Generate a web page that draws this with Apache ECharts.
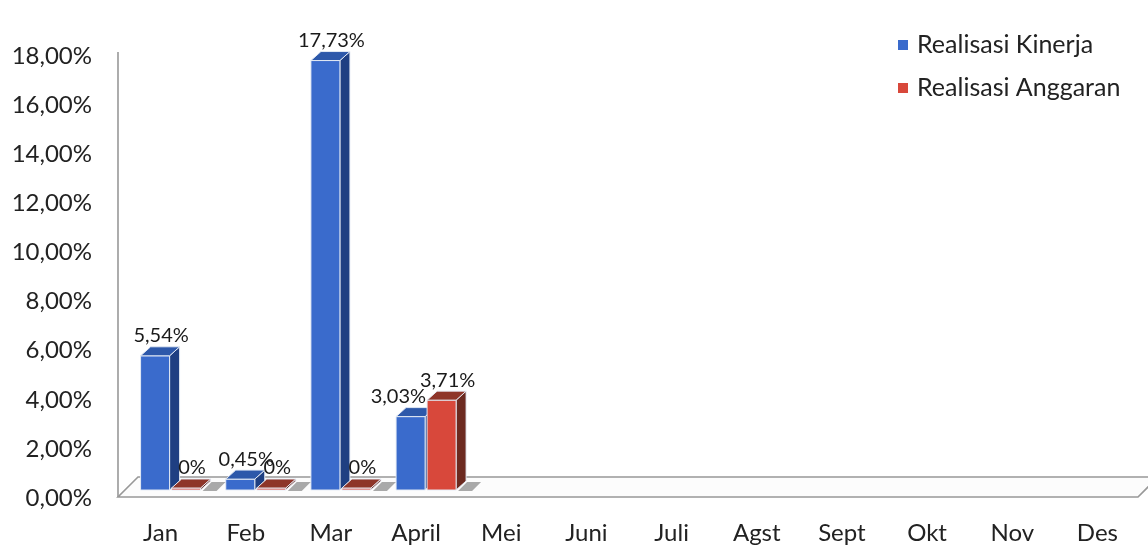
<!DOCTYPE html>
<html>
<head>
<meta charset="utf-8">
<script src="https://cdn.jsdelivr.net/npm/echarts@6/dist/echarts.min.js"></script>
<style>
html,body{margin:0;padding:0;background:#fff;}
#c{width:1148px;height:553px;}
</style>
</head>
<body>
<div id="c"></div>
<script>
var months = ['Jan','Feb','Mar','April','Mei','Juni','Juli','Agst','Sept','Okt','Nov','Des'];
var kinerja = [5.54, 0.45, 17.73, 3.03, null, null, null, null, null, null, null, null];
var anggaran = [0, 0, 0, 3.71, null, null, null, null, null, null, null, null];
var seriesNames = ['Realisasi Kinerja', 'Realisasi Anggaran'];

function toData(arr) {
  var out = [];
  arr.forEach(function (v, i) { if (v !== null) out.push([i, v]); });
  return out;
}
function fmt(v) {
  return v === 0 ? '0%' : v.toFixed(2).replace('.', ',') + '%';
}

var FONT = 'Lato';
var W = 29, DX = 10, DY = 9;
var palettes = [
  {front: '#3a6bcc', side: '#1f3f82', top: '#2d58aa', shift: -20},
  {front: '#d8483b', side: '#6c2a20', top: '#8e3529', shift: 11}
];

function barRenderer(si) {
  var pal = palettes[si];
  return function (params, api) {
    var cat = api.value(0), val = api.value(1);
    var base = api.coord([cat, 0]);
    var top = api.coord([cat, val]);
    var x0 = base[0] + pal.shift;
    var x1 = x0 + W;
    var yb = base[1];
    var yt = Math.min(top[1], yb - 2);
    var edge = 'rgba(230,236,246,0.95)';
    var children = [];
    if (si === 1) {
      children.push({type: 'polygon',
        shape: {points: [[x1 + 2, yb + 1], [x1 + 16, yb + 1], [x1 + 25, yb - 8], [x1 + 11, yb - 8]]},
        style: {fill: '#a9a9a9'}});
    }
    // label placement: if the neighbouring (red) bar is taller, keep the label to its left
    var other = si === 0 ? anggaran[cat] : null;
    var leftAlign = other !== null && other > val;
    children.push(
      {type: 'polygon', shape: {points: [[x1, yb], [x1, yt], [x1 + DX, yt - DY], [x1 + DX, yb - DY]]},
       style: {fill: pal.side, stroke: edge, lineWidth: 1}},
      {type: 'rect', shape: {x: x0, y: yt, width: W, height: yb - yt},
       style: {fill: pal.front, stroke: edge, lineWidth: 1}},
      {type: 'polygon', shape: {points: [[x0, yt], [x1, yt], [x1 + DX, yt - DY], [x0 + DX, yt - DY]]},
       style: {fill: pal.top, stroke: edge, lineWidth: 1}},
      {type: 'text', z2: 100,
       style: {text: fmt(val),
               x: leftAlign ? x1 + 1 : x0 + W / 2 + 6,
               y: yt - DY - 1,
               align: leftAlign ? 'right' : 'center', verticalAlign: 'bottom',
               fill: '#1a1a1a', fontSize: 20, fontFamily: FONT}}
    );
    return {type: 'group', children: children};
  };
}

function floorRenderer(params, api) {
  var cs = params.coordSys;
  var yb = cs.y + cs.height;
  var xl = cs.x, xr = cs.x + cs.width;
  return {
    type: 'group',
    children: [
      {type: 'polygon', shape: {points: [[xl, yb + 7], [xr - 2, yb + 7], [xr + 18, yb - 13], [xl + 20, yb - 13]]},
       style: {fill: '#fcfcfc', stroke: '#989898', lineWidth: 1.6}},
      {type: 'line', shape: {x1: xl, y1: cs.y - 2, x2: xl, y2: yb + 7},
       style: {stroke: '#989898', lineWidth: 1.6}}
    ]
  };
}

var chart = echarts.init(document.getElementById('c'));
chart.setOption({
  animation: false,
  backgroundColor: '#ffffff',
  grid: [
    {left: 118, right: 8, top: 54, bottom: 63},
    {left: 118, right: 8, top: 56, bottom: 55}
  ],
  legend: {
    orient: 'vertical', left: 893, top: 27, itemGap: 17,
    itemWidth: 10, itemHeight: 10, icon: 'rect',
    textStyle: {fontFamily: FONT, fontSize: 25, lineHeight: 26, color: '#222', padding: [0, 0, 0, 4]},
    data: seriesNames
  },
  xAxis: [
    {type: 'category', data: months, gridIndex: 0,
     axisLine: {show: false}, axisTick: {show: false},
     axisLabel: {fontFamily: FONT, fontSize: 24, color: '#222', margin: 31}},
    {type: 'category', data: months, gridIndex: 1, show: false}
  ],
  yAxis: [
    {type: 'value', min: 0, max: 18, interval: 2, gridIndex: 0,
     axisLine: {show: false}, axisTick: {show: false}, splitLine: {show: false}, axisLabel: {show: false}},
    {type: 'value', min: 0, max: 18, interval: 2, gridIndex: 1,
     axisLine: {show: false}, axisTick: {show: false}, splitLine: {show: false},
     axisLabel: {fontFamily: FONT, fontSize: 24, color: '#222', margin: 26,
       formatter: function (v) { return v.toFixed(2).replace('.', ',') + '%'; }}}
  ],
  series: [
    {type: 'custom', name: 'floor', renderItem: floorRenderer, data: [[0, 0]], silent: true, z: 1,
     xAxisIndex: 0, yAxisIndex: 0},
    {type: 'custom', name: seriesNames[0], renderItem: barRenderer(0), data: toData(kinerja),
     itemStyle: {color: palettes[0].front}, z: 2, xAxisIndex: 0, yAxisIndex: 0},
    {type: 'custom', name: seriesNames[1], renderItem: barRenderer(1), data: toData(anggaran),
     itemStyle: {color: palettes[1].front}, z: 2, xAxisIndex: 0, yAxisIndex: 0}
  ]
});
</script>
</body>
</html>
